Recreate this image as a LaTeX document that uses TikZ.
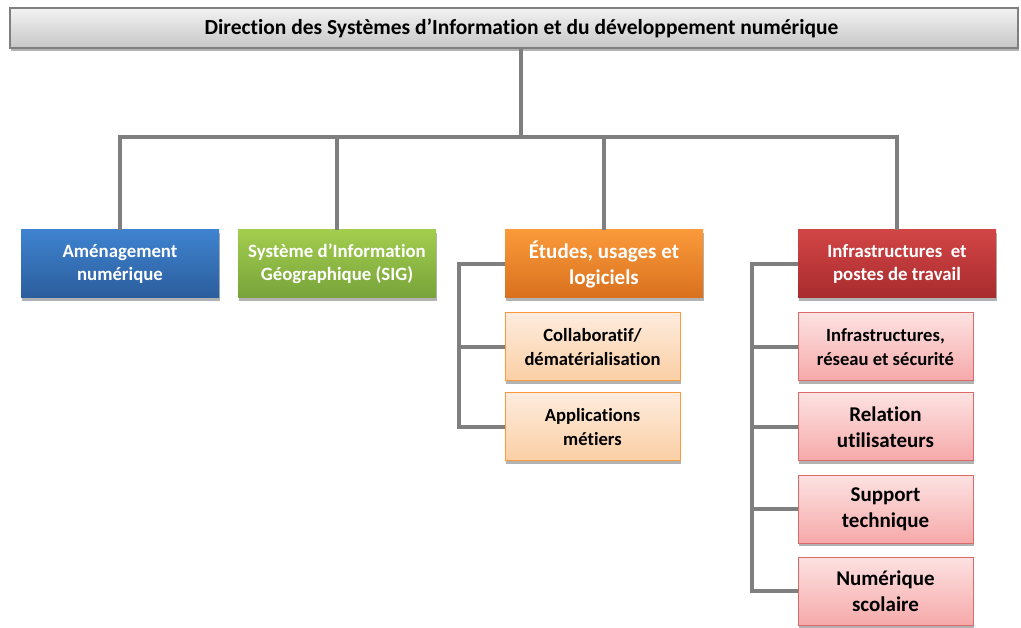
\documentclass[tikz,border=0pt]{standalone}
\usepackage{fontspec}
\setmainfont{Carlito}[Ligatures=NoCommon]
\usetikzlibrary{shadows}

\definecolor{linkgray}{HTML}{7F7F7F}
\definecolor{bluetop}{HTML}{3F83D0}
\definecolor{bluebot}{HTML}{2B5D9C}
\definecolor{greentop}{HTML}{A2CD4E}
\definecolor{greenbot}{HTML}{78A33A}
\definecolor{orangetop}{HTML}{FA9A3A}
\definecolor{orangebot}{HTML}{D9701E}
\definecolor{redtop}{HTML}{D24545}
\definecolor{redbot}{HTML}{A82B2E}
\definecolor{lorangetop}{HTML}{FEEBDD}
\definecolor{lorangebot}{HTML}{FBCFA4}
\definecolor{lredtop}{HTML}{FDE2E2}
\definecolor{lredbot}{HTML}{F6A9A9}

\tikzset{
    link/.style={draw=linkgray, line width=4pt},
    boxshadow/.style={drop shadow={shadow xshift=1pt, shadow yshift=-3pt, opacity=.3, fill=black}},
    bigtext/.style={font=\fontsize{21}{26}\selectfont\bfseries},
    dirbox/.style={draw=linkgray, line width=1.5pt, top color=white!95!black, bottom color=black!22,
        minimum width=1008pt, minimum height=40pt, inner sep=0pt, boxshadow,
        font=\fontsize{21.5}{24}\selectfont\bfseries},
    mainbox/.style={minimum width=198pt, minimum height=68pt, inner sep=0pt, align=center,
        text=white, boxshadow, font=\fontsize{18.8}{23}\selectfont\bfseries},
    subbox/.style={minimum width=175pt, minimum height=68pt, inner sep=0pt, align=center,
        line width=1pt, boxshadow, font=\fontsize{18.6}{24}\selectfont\bfseries},
    orsub/.style={subbox, draw=orangetop, top color=lorangetop, bottom color=lorangebot},
    redsub/.style={subbox, draw=redtop!80, top color=lredtop, bottom color=lredbot},
}

\begin{document}
\begin{tikzpicture}[x=1pt, y=-1pt]
    \useasboundingbox (0,0) rectangle (1021,628);

    \coordinate (bus) at (521,137);
    \coordinate (etbr) at (459,0);
    \coordinate (infbr) at (752,0);

    \node[dirbox] (dir) at (514,28) {\hspace*{15pt}\raisebox{-2pt}{Direction des Systèmes d’Information et du développement numérique}};

    \node[mainbox, top color=bluetop, bottom color=bluebot] (amen) at (120,264) {Aménagement\\numérique};
    \node[mainbox, top color=greentop, bottom color=greenbot] (sig) at (337,264) {Système d’Information\\Géographique (SIG)};
    \node[mainbox, top color=orangetop, bottom color=orangebot, bigtext] (etudes) at (604,264) {Études, usages et\\logiciels};
    \node[mainbox, top color=redtop, bottom color=redbot] (infra) at (897,264) {Infrastructures~ et\\postes de travail};

    \node[orsub] (collab) at (592.5,347) {Collaboratif/\\dématérialisation};
    \node[orsub] (appli) at (592.5,427) {Applications\\métiers};

    \node[redsub] (reseau) at (885.5,347) {Infrastructures,\\réseau et sécurité};
    \node[redsub, bigtext] (relation) at (885.5,427) {Relation\\utilisateurs};
    \node[redsub, bigtext] (support) at (885.5,509) {Support\\technique};
    \node[redsub, bigtext] (scolaire) at (885.5,591) {Numérique\\scolaire};

    % tree
    \draw[link] (bus |- dir.south) -- (bus);
    \draw[link] (amen.north) |- (bus);
    \draw[link] (sig.north) |- (bus);
    \draw[link] (etudes.north) |- (bus);
    \draw[link] (infra.north) |- (bus);

    % side brackets
    \draw[link] (etudes.west) -| (etbr |- appli.west) -- (appli.west);
    \draw[link] (collab.west) -- (collab.west -| etbr);
    \draw[link] (infra.west) -| (infbr |- scolaire.west) -- (scolaire.west);
    \foreach \n in {reseau,relation,support} {
        \draw[link] (\n.west) -- (\n.west -| infbr);
    }
\end{tikzpicture}
\end{document}
